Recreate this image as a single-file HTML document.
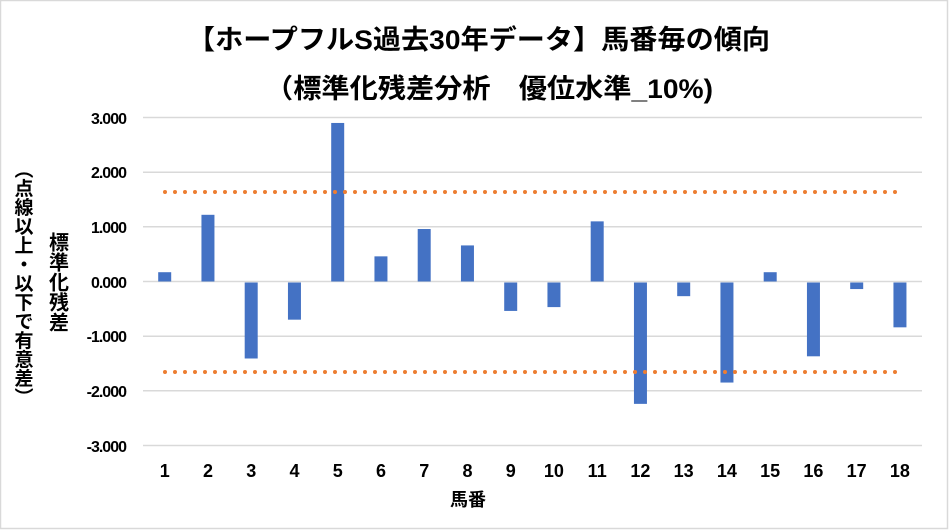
<!DOCTYPE html>
<html><head><meta charset="utf-8"><style>
body{margin:0;background:#fff}
svg{display:block;font-family:"Liberation Sans","Noto Sans CJK JP",sans-serif}
.v{position:absolute;writing-mode:vertical-rl;font-family:"Liberation Sans","Noto Sans CJK JP",sans-serif;font-weight:bold;white-space:nowrap;transform:translate(-50%,-50%)}
</style></head><body>
<div style="position:relative;width:949px;height:530px">
<svg width="949" height="530" viewBox="0 0 949 530">
<rect x="0.5" y="0.5" width="947" height="528" fill="#fff" stroke="#d9d9d9" stroke-width="1.5"/>
<text x="187" y="49" font-size="27" font-weight="bold" textLength="583" lengthAdjust="spacingAndGlyphs">【ホープフルS過去30年データ】馬番毎の傾向</text>
<text x="265" y="98" font-size="27" font-weight="bold" textLength="448" lengthAdjust="spacingAndGlyphs">（標準化残差分析　優位水準_10%)</text>
<g stroke="#d9d9d9" stroke-width="1.5">
<line x1="143" x2="922" y1="117.5" y2="117.5"/>
<line x1="143" x2="922" y1="172.2" y2="172.2"/>
<line x1="143" x2="922" y1="226.8" y2="226.8"/>
<line x1="143" x2="922" y1="281.5" y2="281.5"/>
<line x1="143" x2="922" y1="336.2" y2="336.2"/>
<line x1="143" x2="922" y1="390.8" y2="390.8"/>
<line x1="143" x2="922" y1="445.5" y2="445.5"/>
</g>
<g font-size="16" font-weight="bold" text-anchor="end" letter-spacing="-1">
<text x="126" y="124">3.000</text><text x="126" y="178">2.000</text><text x="126" y="233">1.000</text>
<text x="126" y="288">0.000</text><text x="126" y="342">-1.000</text><text x="126" y="397">-2.000</text><text x="126" y="452">-3.000</text>
</g>
<g fill="#4472c4" id="bars"></g>
<g stroke="#ed7d31" stroke-width="4" stroke-linecap="round" stroke-dasharray="0 10">
<line x1="165" x2="896" y1="192" y2="192"/>
<line x1="165" x2="896" y1="372" y2="372"/>
</g>
<g font-size="18" font-weight="bold" text-anchor="middle" id="xl"></g>
<text x="468" y="506" text-anchor="middle" font-size="18" font-weight="bold">馬番</text>
<script>
var v=[0.17,1.22,-1.39,-0.68,2.9,0.46,0.96,0.66,-0.52,-0.45,1.1,-2.22,-0.25,-1.83,0.17,-1.35,-0.12,-0.82];
var b=document.getElementById('bars'),xl=document.getElementById('xl'),ns='http://www.w3.org/2000/svg';
v.forEach(function(d,i){var cx=164.7+i*43.25,r=document.createElementNS(ns,'rect');
var h=Math.abs(d)*54.67;r.setAttribute('x',cx-6.5);r.setAttribute('width',13);
r.setAttribute('y',d>0?281.5-h:282.5);r.setAttribute('height',h);b.appendChild(r);
var t=document.createElementNS(ns,'text');t.setAttribute('x',cx);t.setAttribute('y',477);t.textContent=i+1;xl.appendChild(t);});
</script>
</svg>
<div class="v" style="left:57px;top:282px;font-size:20px">標準化残差</div>
<div class="v" style="left:22px;top:283px;font-size:19px">（点線以上・以下で有意差）</div>
</div>
</body></html>
